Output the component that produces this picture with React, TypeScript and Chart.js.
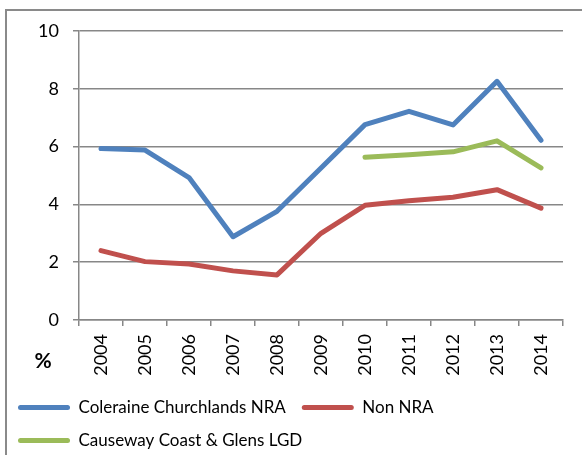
import React, { useEffect, useRef } from "react";
import { Chart, registerables } from "chart.js";

Chart.register(...registerables);

const years = ["2004", "2005", "2006", "2007", "2008", "2009", "2010", "2011", "2012", "2013", "2014"];
const coleraine = [5.93, 5.88, 4.93, 2.88, 3.76, 5.26, 6.76, 7.22, 6.75, 8.26, 6.22];
const nonNRA = [2.4, 2.02, 1.94, 1.7, 1.56, 3.0, 3.97, 4.13, 4.25, 4.51, 3.87];
const causeway = [null, null, null, null, null, null, 5.63, 5.72, 5.82, 6.2, 5.26];
const seriesNames = ["Coleraine Churchlands NRA", "Non NRA", "Causeway Coast & Glens LGD"];
const seriesColors = ["#4F81BD", "#C0504D", "#9BBB59"];
const yMin = 0;
const yMax = 10;
const yStep = 2;
const yAxisTitle = "%";

const FONT = "Lato";
const GRID = "#878787";

const percentPlugin = {
  id: "percentLabel",
  afterDraw(chart: any) {
    const { ctx, chartArea } = chart;
    ctx.save();
    ctx.font = `bold 21px ${FONT}`;
    ctx.fillStyle = "#000";
    ctx.textAlign = "center";
    ctx.textBaseline = "middle";
    ctx.fillText(yAxisTitle, chartArea.left - 36, chartArea.bottom + 41);
    ctx.restore();
  },
};

export default function App() {
  const canvasRef = useRef<HTMLCanvasElement | null>(null);

  useEffect(() => {
    const canvas = canvasRef.current;
    if (!canvas) return;
    const data = [coleraine, nonNRA, causeway];
    const chart = new Chart(canvas, {
      type: "line",
      data: {
        labels: years,
        datasets: data.map((d, i) => ({
          label: seriesNames[i],
          data: d,
          borderColor: seriesColors[i],
          backgroundColor: seriesColors[i],
          borderWidth: 5,
          pointRadius: 0,
          pointHoverRadius: 0,
          tension: 0,
          borderJoinStyle: "round" as const,
          borderCapStyle: "round" as const,
          fill: false,
        })),
      },
      options: {
        responsive: false,
        animation: false,
        devicePixelRatio: 1,
        layout: { padding: { top: 31, right: 19, left: 2, bottom: -4 } },
        plugins: {
          tooltip: { enabled: false },
          legend: {
            position: "bottom",
            align: "start",
            labels: {
              boxWidth: 52,
              boxHeight: 5,
              padding: 16,
              color: "#000",
              font: { family: FONT, size: 17 },
              useBorderRadius: true,
              borderRadius: 2.5,
              generateLabels: (c: any) =>
                Chart.defaults.plugins.legend.labels
                  .generateLabels(c)
                  .map((l: any) => ({ ...l, fillStyle: l.strokeStyle, lineWidth: 0 })),
            },
          },
        },
        scales: {
          x: {
            type: "category",
            offset: true,
            grid: {
              offset: true,
              drawOnChartArea: false,
              tickLength: 6,
              color: GRID,
              lineWidth: 1.5,
            },
            border: { color: GRID, width: 1.5 },
            ticks: {
              minRotation: 90,
              maxRotation: 90,
              autoSkip: false,
              padding: 8,
              color: "#000",
              font: { family: FONT, size: 18 },
            },
            afterFit: (s: any) => {
              s.height = 63;
            },
          },
          y: {
            min: yMin,
            max: yMax,
            ticks: {
              stepSize: yStep,
              padding: 14,
              color: "#000",
              font: { family: FONT, size: 18 },
            },
            grid: { color: GRID, lineWidth: 1.5, tickLength: 6 },
            border: { color: GRID, width: 1.5 },
            afterFit: (s: any) => {
              s.width = 77;
            },
          },
        },
      },
      plugins: [percentPlugin],
    });
    return () => chart.destroy();
  }, []);

  return (
    <div
      style={{
        position: "fixed",
        left: 0,
        top: 0,
        width: 582,
        height: 455,
        overflow: "hidden",
        background: "#fff",
      }}
    >
      <div
        style={{
          position: "absolute",
          left: 5,
          top: 9,
          width: 800,
          height: 800,
          border: "2px solid #8a8a8a",
          boxSizing: "border-box",
        }}
      />
      <canvas
        ref={canvasRef}
        width={582}
        height={455}
        style={{ position: "absolute", left: 0, top: 0, width: 582, height: 455 }}
      />
    </div>
  );
}
